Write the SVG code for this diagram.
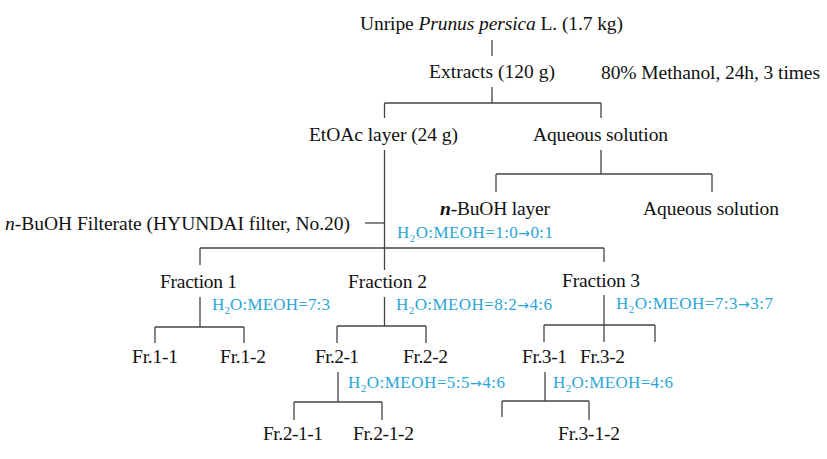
<svg xmlns="http://www.w3.org/2000/svg" width="827" height="459" viewBox="0 0 827 459">
<style>
text{font-family:"Liberation Serif","Times New Roman",serif;font-size:19.5px;fill:#111}
.b{fill:#2aa5d6;font-size:17px}
.s{font-size:11px}
.ar{font-family:"DejaVu Sans",sans-serif;font-size:14px}
#connectors line{stroke:#444;stroke-width:1.3;fill:none}
</style>
<rect width="827" height="459" fill="#fff"/>
<g id="connectors">
<line x1="492" y1="40" x2="492" y2="56"/>
<line x1="492" y1="87" x2="492" y2="103"/>
<line x1="384.5" y1="103" x2="601" y2="103"/>
<line x1="384.5" y1="103" x2="384.5" y2="118"/>
<line x1="601" y1="103" x2="601" y2="118"/>
<line x1="384.5" y1="150" x2="384.5" y2="270"/>
<line x1="365" y1="223" x2="384.5" y2="223"/>
<line x1="200" y1="248" x2="604" y2="248"/>
<line x1="200" y1="248" x2="200" y2="265"/>
<line x1="604" y1="248" x2="604" y2="262"/>
<line x1="601" y1="150" x2="601" y2="174"/>
<line x1="496" y1="174" x2="712" y2="174"/>
<line x1="496" y1="174" x2="496" y2="192"/>
<line x1="712" y1="174" x2="712" y2="192"/>
<line x1="200" y1="297" x2="200" y2="327"/>
<line x1="155" y1="327" x2="244" y2="327"/>
<line x1="155" y1="327" x2="155" y2="343"/>
<line x1="244" y1="327" x2="244" y2="343"/>
<line x1="384.5" y1="297" x2="384.5" y2="326"/>
<line x1="337" y1="326" x2="426" y2="326"/>
<line x1="337" y1="326" x2="337" y2="343"/>
<line x1="426" y1="326" x2="426" y2="343"/>
<line x1="604" y1="295" x2="604" y2="342"/>
<line x1="544" y1="325" x2="655" y2="325"/>
<line x1="544" y1="325" x2="544" y2="342"/>
<line x1="655" y1="325" x2="655" y2="342"/>
<line x1="338" y1="372" x2="338" y2="402"/>
<line x1="294" y1="402" x2="382" y2="402"/>
<line x1="294" y1="402" x2="294" y2="420"/>
<line x1="382" y1="402" x2="382" y2="420"/>
<line x1="545" y1="372" x2="545" y2="401"/>
<line x1="502" y1="401" x2="589" y2="401"/>
<line x1="502" y1="401" x2="502" y2="417"/>
<line x1="589" y1="401" x2="589" y2="420"/>
</g>
<g id="unripe"><text x="360" y="30" textLength="263">Unripe <tspan font-style="italic">Prunus persica</tspan> L. (1.7 kg)</text></g>
<g id="extracts"><text x="429" y="78" textLength="126">Extracts (120 g)</text></g>
<g id="methanol"><text x="601" y="79" textLength="219">80% Methanol, 24h, 3 times</text></g>
<g id="etoac"><text x="309" y="141" textLength="149">EtOAc layer (24 g)</text></g>
<g id="aqueous1"><text x="533" y="141" textLength="135">Aqueous solution</text></g>
<g id="filterate"><text x="5" y="230" textLength="345"><tspan font-style="italic">n</tspan>-BuOH Filterate (HYUNDAI filter, No.20)</text></g>
<g id="buoh"><text x="440" y="215" textLength="110"><tspan font-style="italic" font-weight="bold">n</tspan>-BuOH layer</text></g>
<g id="aqueous2"><text x="643" y="215" textLength="136">Aqueous solution</text></g>
<g id="cond1"><text class="b" x="397" y="238" textLength="156">H<tspan class="s" dy="4">2</tspan><tspan dy="-4">O:MEOH=1:0</tspan><tspan class="ar">→</tspan>0:1</text></g>
<g id="fraction1"><text x="160" y="288" textLength="77">Fraction 1</text></g>
<g id="fraction2"><text x="348" y="288" textLength="79">Fraction 2</text></g>
<g id="fraction3"><text x="562" y="287" textLength="78">Fraction 3</text></g>
<g id="cond2"><text class="b" x="212" y="310" textLength="118">H<tspan class="s" dy="4">2</tspan><tspan dy="-4">O:MEOH=7:3</tspan></text></g>
<g id="cond3"><text class="b" x="396" y="310" textLength="156">H<tspan class="s" dy="4">2</tspan><tspan dy="-4">O:MEOH=8:2</tspan><tspan class="ar">→</tspan>4:6</text></g>
<g id="cond4"><text class="b" x="616" y="309" textLength="157">H<tspan class="s" dy="4">2</tspan><tspan dy="-4">O:MEOH=7:3</tspan><tspan class="ar">→</tspan>3:7</text></g>
<g id="fr11"><text x="132" y="363" textLength="46">Fr.1-1</text></g>
<g id="fr12"><text x="220" y="363" textLength="46">Fr.1-2</text></g>
<g id="fr21"><text x="315" y="363" textLength="44">Fr.2-1</text></g>
<g id="fr22"><text x="403" y="363" textLength="45">Fr.2-2</text></g>
<g id="fr31"><text x="522" y="363" textLength="45">Fr.3-1</text></g>
<g id="fr32"><text x="580" y="363" textLength="45">Fr.3-2</text></g>
<g id="cond5"><text class="b" x="348" y="388" textLength="157">H<tspan class="s" dy="4">2</tspan><tspan dy="-4">O:MEOH=5:5</tspan><tspan class="ar">→</tspan>4:6</text></g>
<g id="cond6"><text class="b" x="553" y="388" textLength="120">H<tspan class="s" dy="4">2</tspan><tspan dy="-4">O:MEOH=4:6</tspan></text></g>
<g id="fr211"><text x="263" y="440" textLength="60">Fr.2-1-1</text></g>
<g id="fr212"><text x="353" y="440" textLength="61">Fr.2-1-2</text></g>
<g id="fr312"><text x="558" y="440" textLength="62">Fr.3-1-2</text></g>
</svg>
